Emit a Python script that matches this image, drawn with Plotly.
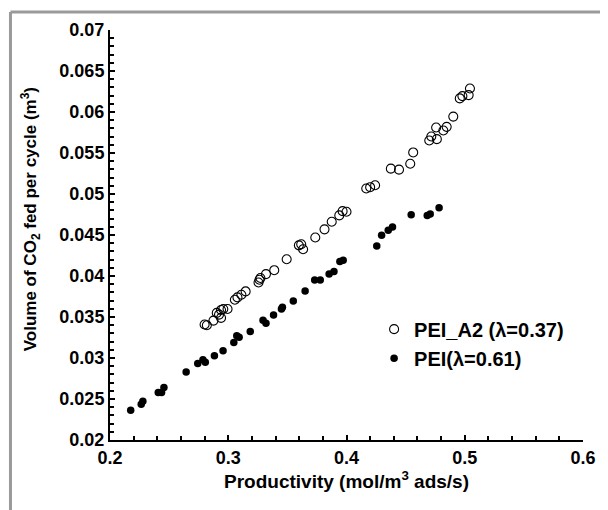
import plotly.graph_objects as go

# PEI_A2 (lambda=0.37) - open circles
a2_x = [0.2800, 0.2819, 0.2875, 0.2903, 0.2922, 0.2939, 0.2939, 0.2958, 0.2994,
        0.3056, 0.3078, 0.3111, 0.3147, 0.3256, 0.3272, 0.3264, 0.3319, 0.3389,
        0.3494, 0.3597, 0.3617, 0.3633, 0.3736, 0.3814, 0.3875, 0.3939, 0.3967,
        0.4000, 0.4167, 0.4200, 0.4242, 0.4375, 0.4444, 0.4539, 0.4564, 0.4700,
        0.4717, 0.4764, 0.4758, 0.4819, 0.4847, 0.4903, 0.4958, 0.4980, 0.5033,
        0.5044]
a2_y = [0.03408, 0.03399, 0.03456, 0.03550, 0.03529, 0.03586, 0.03489, 0.03598, 0.03598,
        0.03711, 0.03739, 0.03772, 0.03812, 0.03921, 0.03975, 0.03954, 0.04023, 0.04071,
        0.04204, 0.04374, 0.04387, 0.04326, 0.04469, 0.04569, 0.04662, 0.04739, 0.04791,
        0.04783, 0.05067, 0.05083, 0.05107, 0.05309, 0.05297, 0.05369, 0.05507, 0.05653,
        0.05701, 0.05669, 0.05811, 0.05774, 0.05819, 0.05944, 0.06166, 0.06194, 0.06206,
        0.06286]

# PEI (lambda=0.61) - filled dots
pei_x = [0.2175, 0.2264, 0.2278, 0.2408, 0.2436, 0.2456, 0.2644, 0.2742, 0.2786,
         0.2806, 0.2883, 0.2956, 0.3047, 0.3072, 0.3092, 0.3186, 0.3294, 0.3319,
         0.3383, 0.3450, 0.3458, 0.3550, 0.3650, 0.3731, 0.3778, 0.3853, 0.3894,
         0.3944, 0.3972, 0.4256, 0.4297, 0.4353, 0.4389, 0.4547, 0.4683, 0.4708,
         0.4783]
pei_y = [0.02364, 0.02437, 0.02473, 0.02579, 0.02579, 0.02640, 0.02829, 0.02934, 0.02979,
         0.02947, 0.03028, 0.03089, 0.03189, 0.03270, 0.03254, 0.03323, 0.03460, 0.03424,
         0.03525, 0.03598, 0.03618, 0.03695, 0.03817, 0.03950, 0.03950, 0.04023, 0.04055,
         0.04176, 0.04192, 0.04367, 0.04496, 0.04557, 0.04597, 0.04746, 0.04739, 0.04755,
         0.04832]

FONT = "Liberation Sans, Arial, sans-serif"

fig = go.Figure()
fig.add_trace(go.Scatter(
    x=a2_x, y=a2_y, mode="markers", name="<b>PEI_A2 (λ=0.37)</b>",
    marker=dict(symbol="circle-open", size=9, color="black", line=dict(width=1.1, color="black")),
))
fig.add_trace(go.Scatter(
    x=pei_x, y=pei_y, mode="markers", name="<b>PEI(λ=0.61)</b>",
    marker=dict(symbol="circle", size=7.5, color="black"),
))

# page body has an 8px margin; target positions below are in window pixels
OFF = 8
W, H = 608 - OFF, 510 - OFF
L, T = 110 - OFF, 28 - OFF
R, B = 18, 70
pw, ph = W - L - R, H - T - B

def px2paper_x(px):
    return (px - OFF - L) / pw

def px2paper_y(py):
    return (H - B - (py - OFF)) / ph

fig.update_layout(
    width=W, height=H,
    margin=dict(l=L, r=R, t=T, b=B),
    paper_bgcolor="white", plot_bgcolor="white",
    font=dict(family=FONT, color="black", size=18),
    showlegend=True,
    legend=dict(
        x=px2paper_x(378), y=px2paper_y(309), xanchor="left", yanchor="top",
        bgcolor="rgba(0,0,0,0)", font=dict(size=20, family=FONT),
        itemsizing="trace", tracegroupgap=0,
    ),
    xaxis=dict(
        range=[0.2, 0.6], dtick=0.1, tick0=0.2, tickformat=".1f",
        showgrid=False, zeroline=False, showline=True, linecolor="black", linewidth=2,
        ticks="inside", ticklen=5, tickwidth=1.5, tickcolor="black",
        minor=dict(dtick=0.02, ticks="inside", ticklen=4, tickwidth=1.5, tickcolor="black"),
        tickfont=dict(size=18, family=FONT, weight="bold"),
        title=dict(text="<b>Productivity (mol/m<sup>3</sup> ads/s)</b>", font=dict(size=19, family=FONT), standoff=6),
    ),
    yaxis=dict(
        range=[0.02, 0.07], dtick=0.005, tick0=0.02,
        showgrid=False, zeroline=False, showline=True, linecolor="black", linewidth=2,
        ticks="inside", ticklen=5, tickwidth=1.5, tickcolor="black",
        minor=dict(dtick=0.001, ticks="inside", ticklen=4, tickwidth=1.5, tickcolor="black"),
        tickfont=dict(size=18, family=FONT, weight="bold"),
        tickformat="~g",
    ),
    annotations=[dict(
        text="<b>Volume of CO<sub>2</sub> fed per cycle (m<sup>3</sup>)</b>",
        xref="paper", yref="paper", x=px2paper_x(29), y=px2paper_y(218),
        xanchor="center", yanchor="middle", textangle=-90, showarrow=False,
        font=dict(size=17, family=FONT),
    )],
    shapes=[
        dict(type="line", xref="paper", yref="paper",
             x0=px2paper_x(9), x1=px2paper_x(620), y0=px2paper_y(10), y1=px2paper_y(10),
             line=dict(color="#9a9a9a", width=3)),
        dict(type="line", xref="paper", yref="paper",
             x0=px2paper_x(9), x1=px2paper_x(9), y0=px2paper_y(10), y1=px2paper_y(520),
             line=dict(color="#9a9a9a", width=3)),
    ],
)

fig.write_html("out.html")
